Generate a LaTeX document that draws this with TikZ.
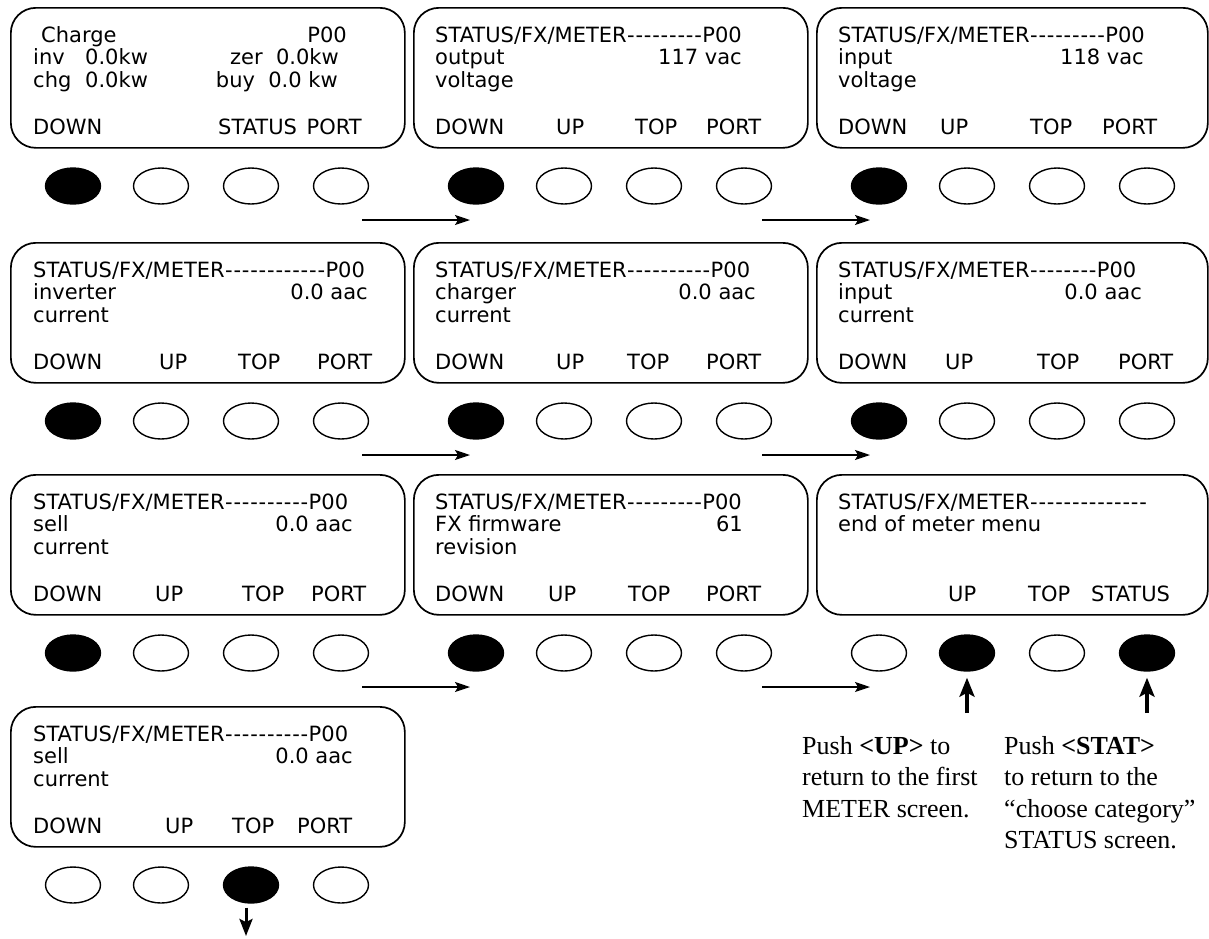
\documentclass[tikz,border=0pt]{standalone}
\usepackage{fontspec}
\setmainfont{Liberation Serif}
\newfontfamily\lcdfont{DejaVu Sans}
\usetikzlibrary{shapes.geometric,arrows.meta}
\newcommand\hy{\makebox[8.4pt]{-}}
\newcommand\mydashes[1]{\foreach\i in {1,...,#1}{\hy}}
\newcommand\hdr[1]{STATUS/FX/METER\mydashes{#1}P00}
\tikzset{
  panel/.style={draw, line width=1.7pt, rounded corners=25pt, minimum width=394pt,
    minimum height=140pt, inner sep=0pt, anchor=north west},
  lcd/.style={font=\lcdfont\fontsize{21}{22}\selectfont, inner sep=0pt, anchor=base west},
  lcdr/.style={lcd, anchor=base east},
  btn/.style={ellipse, draw, line width=1.4pt, minimum width=55pt, minimum height=36pt, inner sep=0pt},
  btnon/.style={btn, fill=black},
  nav/.style={line width=1.5pt, -{Stealth[length=15pt,width=10pt,inset=3pt]}},
  push/.style={line width=3.5pt, -{Stealth[length=19pt,width=15pt,inset=4pt]}},
  note/.style={font=\fontsize{26}{31}\selectfont, inner sep=0pt, anchor=base west},
}
\newcommand\btnrow[7]{%
  \node[#4] (#1b1) at (#2+63,#3+179) {};
  \node[#5] (#1b2) at (#2+151,#3+179) {};
  \node[#6] (#1b3) at (#2+241,#3+179) {};
  \node[#7] (#1b4) at (#2+331,#3+179) {};
}
\begin{document}
\begin{tikzpicture}[x=1pt,y=-1pt]
\useasboundingbox (0,0) rectangle (1209,938);

% ---------- panels ----------
\node[panel] (p11) at (10,7) {};
\node[panel] (p12) at (413,7) {};
\node[panel, minimum width=391pt] (p13) at (816,7) {};
\node[panel] (p21) at (10,242) {};
\node[panel] (p22) at (413,242) {};
\node[panel, minimum width=391pt] (p23) at (816,242) {};
\node[panel] (p31) at (10,474) {};
\node[panel] (p32) at (413,474) {};
\node[panel, minimum width=391pt] (p33) at (816,474) {};
\node[panel] (p41) at (10,706) {};

% ---------- row 1 texts ----------
\node[lcd] (t11a) at (41,42) {Charge};
\node[lcdr] (t11b) at (347,42) {P00};
\node[lcd] (t11c) at (33,64.5) {inv};
\node[lcd] (t11d) at (85,64.5) {0.0kw};
\node[lcdr] (t11e) at (339,64.5) {zer\ \ 0.0kw};
\node[lcd] (t11f) at (33,87) {chg};
\node[lcd] (t11g) at (85,87) {0.0kw};
\node[lcdr] (t11h) at (338,87) {buy\ \ 0.0 kw};
\node[lcd] (t11i) at (33,134) {DOWN};
\node[lcd] (t11j) at (218,134) {STATUS};
\node[lcdr] (t11k) at (362,134) {PORT};

\node[lcd] (t12a) at (435,42) {\hdr{9}};
\node[lcd] (t12b) at (435,64.5) {output};
\node[lcdr] (t12c) at (742,64.5) {117 vac};
\node[lcd] (t12d) at (435,87) {voltage};
\node[lcd] (t12e) at (435,134) {DOWN};
\node[lcd] (t12f) at (556,134) {UP};
\node[lcd] (t12g) at (635,134) {TOP};
\node[lcd] (t12h) at (706,134) {PORT};

\node[lcd] (t13a) at (838,42) {\hdr{9}};
\node[lcd] (t13b) at (838,64.5) {input};
\node[lcdr] (t13c) at (1144,64.5) {118 vac};
\node[lcd] (t13d) at (838,87) {voltage};
\node[lcd] (t13e) at (838,134) {DOWN};
\node[lcd] (t13f) at (940,134) {UP};
\node[lcd] (t13g) at (1030,134) {TOP};
\node[lcd] (t13h) at (1102,134) {PORT};

% ---------- row 2 texts ----------
\node[lcd] (t21a) at (33,277) {\hdr{12}};
\node[lcd] (t21b) at (33,299.5) {inverter};
\node[lcdr] (t21c) at (368,299.5) {0.0 aac};
\node[lcd] (t21d) at (33,322) {current};
\node[lcd] (t21e) at (33,369) {DOWN};
\node[lcd] (t21f) at (159,369) {UP};
\node[lcd] (t21g) at (238,369) {TOP};
\node[lcd] (t21h) at (317,369) {PORT};

\node[lcd] (t22a) at (435,277) {\hdr{10}};
\node[lcd] (t22b) at (435,299.5) {charger};
\node[lcdr] (t22c) at (756,299.5) {0.0 aac};
\node[lcd] (t22d) at (435,322) {current};
\node[lcd] (t22e) at (435,369) {DOWN};
\node[lcd] (t22f) at (556,369) {UP};
\node[lcd] (t22g) at (627,369) {TOP};
\node[lcd] (t22h) at (706,369) {PORT};

\node[lcd] (t23a) at (838,277) {\hdr{8}};
\node[lcd] (t23b) at (838,299.5) {input};
\node[lcdr] (t23c) at (1142,299.5) {0.0 aac};
\node[lcd] (t23d) at (838,322) {current};
\node[lcd] (t23e) at (838,369) {DOWN};
\node[lcd] (t23f) at (945,369) {UP};
\node[lcd] (t23g) at (1037,369) {TOP};
\node[lcd] (t23h) at (1118,369) {PORT};

% ---------- row 3 texts ----------
\node[lcd] (t31a) at (33,509) {\hdr{10}};
\node[lcd] (t31b) at (33,531.5) {sell};
\node[lcdr] (t31c) at (353,531.5) {0.0 aac};
\node[lcd] (t31d) at (33,554) {current};
\node[lcd] (t31e) at (33,601) {DOWN};
\node[lcd] (t31f) at (155,601) {UP};
\node[lcd] (t31g) at (242,601) {TOP};
\node[lcd] (t31h) at (311,601) {PORT};

\node[lcd] (t32a) at (435,509) {\hdr{9}};
\node[lcd] (t32b) at (435,531.5) {FX firmware};
\node[lcdr] (t32c) at (743,531.5) {61};
\node[lcd] (t32d) at (435,554) {revision};
\node[lcd] (t32e) at (435,601) {DOWN};
\node[lcd] (t32f) at (548,601) {UP};
\node[lcd] (t32g) at (628,601) {TOP};
\node[lcd] (t32h) at (706,601) {PORT};

\node[lcd] (t33a) at (838,509) {STATUS/FX/METER\mydashes{14}};
\node[lcd] (t33b) at (838,531.5) {end of meter menu};
\node[lcd] (t33f) at (948,601) {UP};
\node[lcd] (t33g) at (1028,601) {TOP};
\node[lcd] (t33h) at (1091,601) {STATUS};

% ---------- row 4 texts ----------
\node[lcd] (t41a) at (33,741) {\hdr{10}};
\node[lcd] (t41b) at (33,763.5) {sell};
\node[lcdr] (t41c) at (353,763.5) {0.0 aac};
\node[lcd] (t41d) at (33,786) {current};
\node[lcd] (t41e) at (33,833) {DOWN};
\node[lcd] (t41f) at (165,833) {UP};
\node[lcd] (t41g) at (232,833) {TOP};
\node[lcd] (t41h) at (297,833) {PORT};

% ---------- buttons ----------
\btnrow{p11}{10}{7}{btnon}{btn}{btn}{btn}
\btnrow{p12}{413}{7}{btnon}{btn}{btn}{btn}
\btnrow{p13}{816}{7}{btnon}{btn}{btn}{btn}
\btnrow{p21}{10}{242}{btnon}{btn}{btn}{btn}
\btnrow{p22}{413}{242}{btnon}{btn}{btn}{btn}
\btnrow{p23}{816}{242}{btnon}{btn}{btn}{btn}
\btnrow{p31}{10}{474}{btnon}{btn}{btn}{btn}
\btnrow{p32}{413}{474}{btnon}{btn}{btn}{btn}
\btnrow{p33}{816}{474}{btn}{btnon}{btn}{btnon}
\btnrow{p41}{10}{706}{btn}{btn}{btnon}{btn}

% ---------- navigation arrows ----------
\coordinate (a11) at (362,220); \coordinate (a12) at (470,220);
\coordinate (a13) at (762,220); \coordinate (a14) at (870,220);
\coordinate (a21) at (362,455); \coordinate (a22) at (470,455);
\coordinate (a23) at (762,455); \coordinate (a24) at (870,455);
\coordinate (a31) at (362,687); \coordinate (a32) at (470,687);
\coordinate (a33) at (762,687); \coordinate (a34) at (870,687);
\draw[nav] (a11) -- (a12);
\draw[nav] (a13) -- (a14);
\draw[nav] (a21) -- (a22);
\draw[nav] (a23) -- (a24);
\draw[nav] (a31) -- (a32);
\draw[nav] (a33) -- (a34);

% ---------- push arrows ----------
\coordinate (u1) at (967,713);
\coordinate (u2) at (1147,713);
\draw[push] (u1) -- ([yshift=-6pt]p33b2.south);
\draw[push] (u2) -- ([yshift=-6pt]p33b4.south);
\coordinate (d1) at (246,936);
\draw[push, line width=3pt, -{Stealth[length=17pt,width=13pt,inset=3pt]}] (p41b3.south -| d1) ++(0,4) -- (d1);

% ---------- notes ----------
\node[note] (n1) at (802,754) {Push \textbf{<UP>} to};
\node[note] (n2) at (802,785.5) {return to the first};
\node[note] (n3) at (802,817) {METER screen.};
\node[note] (n4) at (1004,754) {Push \textbf{<STAT>}};
\node[note] (n5) at (1004,785.5) {to return to the};
\node[note] (n6) at (1004,817) {“choose category”};
\node[note] (n7) at (1004,848.5) {STATUS screen.};
\end{tikzpicture}
\end{document}
